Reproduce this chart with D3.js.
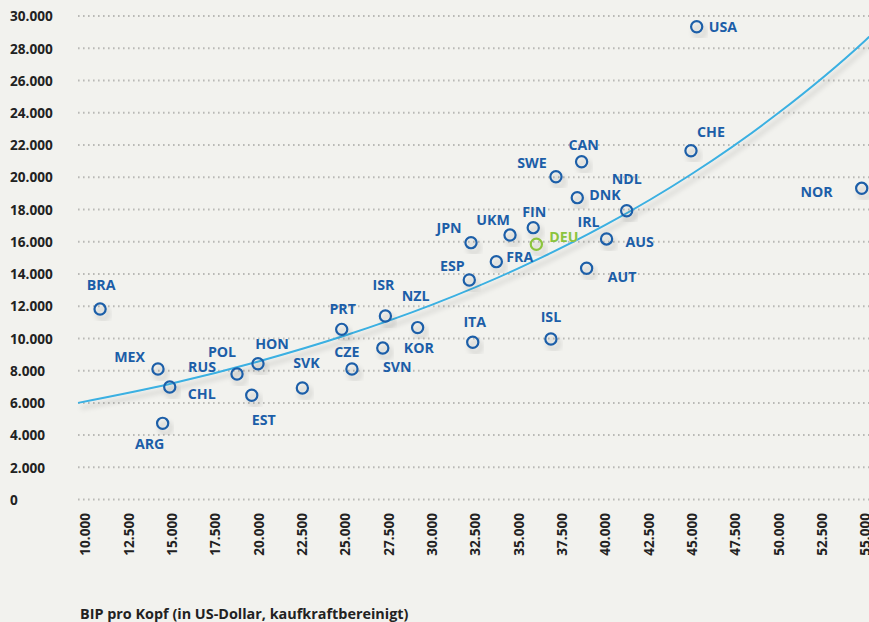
<!DOCTYPE html>
<html><head><meta charset="utf-8">
<script src="https://cdn.jsdelivr.net/npm/d3@7"></script>
<style>
html,body{margin:0;padding:0;background:#f2f2ee;}
svg{display:block;font-family:"Open Sans","Noto Sans",sans-serif;font-weight:700;}
</style></head>
<body>
<svg id="chart" width="869" height="622"></svg>
<script>
// ---- data ----
const countries = ["BRA","MEX","CHL","ARG","RUS","POL","HON","EST","SVK","CZE","SVN","PRT","ISR","NZL","KOR","ITA","ISL","ESP","JPN","FRA","UKM","FIN","DEU","SWE","CAN","DNK","IRL","AUS","AUT","NDL","CHE","USA","NOR"];
const gdp =      [10870,14210,14890,14480,18770,18770,19980,19620,22540,25400,25400,24810,27330,29190,27180,32370,36880,32170,32270,33730,34520,35860,36040,37170,38650,38400,40090,40090,38940,41250,44960,45290,54810];
const spending = [11820,8100,6985,4730,7790,7790,8430,6470,6920,8100,8100,10560,11390,10670,9400,9760,9960,13620,15940,14760,16410,16870,15840,20030,20960,18730,16170,16170,14350,17920,21640,29330,19310];
const highlight = ["DEU"];
const trendX = [9600,15000,20000,25000,30000,35000,40000,45000,50000,55000,55250];
const trendY = [6000,7200,8570,10180,12080,14340,17020,20200,23980,28470,28720];
const yTicks = [0,2000,4000,6000,8000,10000,12000,14000,16000,18000,20000,22000,24000,26000,28000,30000];
const xTicks = [10000,12500,15000,17500,20000,22500,25000,27500,30000,32500,35000,37500,40000,42500,45000,47500,50000,52500,55000];
const xTitle = "BIP pro Kopf (in US-Dollar, kaufkraftbereinigt)";

// ---- label placement (style) ----
const labelPos = {
  BRA:[1,-24,"middle"], MEX:[-13,-12,"end"], CHL:[18,7,"start"], ARG:[-13,21,"middle"],
  RUS:[-21,-7,"end"], POL:[-15,-22,"middle"], HON:[14,-20,"middle"], EST:[12,25,"middle"],
  SVK:[4,-25,"middle"], CZE:[-5,-17,"middle"], SVN:[31,-2,"start"], PRT:[1,-20,"middle"],
  ISR:[-2,-31,"middle"], NZL:[-2,-32,"middle"], KOR:[21,0,"start"], ITA:[2,-20,"middle"],
  ISL:[0,-22,"middle"], ESP:[-17,-14,"middle"], JPN:[-22,-15,"middle"], FRA:[10,-5,"start"],
  UKM:[-17,-15,"middle"], FIN:[1,-16,"middle"], DEU:[13,-7,"start"], SWE:[-24,-14,"middle"],
  CAN:[2,-17,"middle"], DNK:[12,-3,"start"], IRL:[-18,-17,"middle"], AUS:[19,3,"start"],
  AUT:[21,9,"start"], NDL:[0,-32,"middle"], CHE:[20,-19,"middle"], USA:[12,0,"start"],
  NOR:[-29,4,"end"]
};

const blue = "#1c5ea8", green = "#8cc43e", lineBlue = "#3bb0e2";
const svg = d3.select("#chart");
const x = d3.scaleLinear().domain([10000,55000]).range([85,865]);
const y = d3.scaleLinear().domain([0,30000]).range([499.6,16]);
const fmt = d3.formatLocale({decimal:",",thousands:".",grouping:[3],currency:["","€"]}).format(",.0f");

const defs = svg.append("defs");
const f = defs.append("filter").attr("id","sh").attr("x","-50%").attr("y","-50%").attr("width","200%").attr("height","200%");
f.append("feDropShadow").attr("dx",3).attr("dy",5).attr("stdDeviation",2.5).attr("flood-color","#000").attr("flood-opacity",0.2);

// grid
svg.append("g").selectAll("line").data(yTicks).join("line")
  .attr("x1",78).attr("x2",869).attr("y1",d=>y(d)).attr("y2",d=>y(d))
  .attr("stroke","#b9b9b6").attr("stroke-width",2).attr("stroke-dasharray","1.6,3.4");

const axisFont = sel => sel.attr("fill","#222").style("font-size","13.6px")
  .style("font-family","'Open Sans','Noto Sans',sans-serif").style("font-weight","700");

// y axis labels
const yAxis = d3.axisLeft(y).tickValues(yTicks).tickFormat(fmt).tickSize(0);
const gy = svg.append("g").attr("transform","translate(10,0)").call(yAxis);
gy.select(".domain").remove();
gy.selectAll("text").attr("text-anchor","start").attr("x",0).attr("dy","0.35em").call(axisFont);

// x axis labels
const xAxis = d3.axisBottom(x).tickValues(xTicks).tickFormat(fmt).tickSize(0);
const gx = svg.append("g").attr("transform","translate(0,513)").call(xAxis);
gx.select(".domain").remove();
gx.selectAll("text").attr("transform","rotate(-90)").attr("text-anchor","end")
  .attr("x",0).attr("y",0).attr("dy","0.36em").call(axisFont);

// trend
const trend = trendX.map((v,i)=>[v,trendY[i]]);
svg.append("path").datum(trend)
  .attr("d", d3.line().x(d=>x(d[0])).y(d=>y(d[1])).curve(d3.curveMonotoneX))
  .attr("fill","none").attr("stroke",lineBlue).attr("stroke-width",2).attr("filter","url(#sh)");

// points (coincident points drawn once)
const pts = countries.map((c,i)=>({c, gx:gdp[i], gy:spending[i]}));
const uniq = pts.filter((d,i)=>pts.findIndex(e=>e.gx===d.gx&&e.gy===d.gy)===i);
svg.append("g").selectAll("circle").data(uniq).join("circle")
  .attr("cx",d=>x(d.gx)).attr("cy",d=>y(d.gy)).attr("r",5.6)
  .attr("fill","none").attr("stroke",d=>highlight.includes(d.c)?green:blue).attr("stroke-width",2.2)
  .attr("filter","url(#sh)");

svg.append("g").selectAll("text").data(pts).join("text")
  .attr("x",d=>x(d.gx)+labelPos[d.c][0]).attr("y",d=>y(d.gy)+labelPos[d.c][1])
  .attr("dy","0.36em").attr("text-anchor",d=>labelPos[d.c][2])
  .attr("fill",d=>highlight.includes(d.c)?green:blue).style("font-size","14.2px")
  .text(d=>d.c);

svg.append("text").attr("x",80).attr("y",619).attr("fill","#222").style("font-size","14.4px").text(xTitle);
</script>
</body></html>
